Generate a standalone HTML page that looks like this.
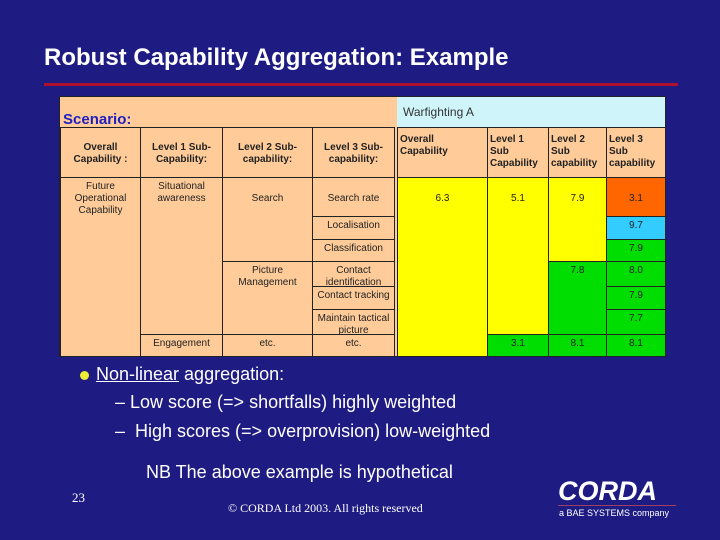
<!DOCTYPE html>
<html><head><meta charset="utf-8"><style>
body{margin:0;width:720px;height:540px;background:#1e1b82;position:relative;overflow:hidden;font-family:"Liberation Sans",sans-serif}
.a{position:absolute;box-sizing:border-box}
.c{position:absolute;box-sizing:border-box;border:1px solid #222;font-size:10px;color:#222;text-align:center;line-height:12px;padding-top:3px}
.t{color:#fff;position:absolute;white-space:nowrap}
</style></head><body>
<div class="t" style="left:44px;top:44px;font-size:24px;font-weight:bold">Robust Capability Aggregation: Example</div>
<div class="a" style="left:44px;top:83px;width:634px;height:3px;background:#b01030"></div>
<div class="a" style="left:59px;top:96px;width:607px;height:261px;background:#fc9;border:1px solid #222">
</div>
<div class="a" style="left:63px;top:111px;font-size:15px;font-weight:bold;color:#2020c0">Scenario:</div>
<div class="a" style="left:397px;top:97px;width:268px;height:30px;background:#cff5fb;font-size:12px;color:#333;padding:8px 0 0 6px">Warfighting A</div>
<div id="cells"></div>
<div class="a" style="left:80px;top:371px;width:9px;height:9px;border-radius:50%;background:#ee3"></div>
<div class="t" style="left:96px;top:364px;font-size:18px"><u>Non-linear</u> aggregation:</div>
<div class="t" style="left:115px;top:392px;font-size:18px">– Low score (=&gt; shortfalls) highly weighted</div>
<div class="t" style="left:115px;top:421px;font-size:18px">–&nbsp; High scores (=&gt; overprovision) low-weighted</div>
<div class="t" style="left:146px;top:462px;font-size:18px">NB The above example is hypothetical</div>
<div class="t" style="left:72px;top:490px;font-size:13px;font-family:'Liberation Serif',serif">23</div>
<div class="t" style="left:228px;top:501px;font-size:12px;font-family:'Liberation Serif',serif">© CORDA Ltd 2003. All rights reserved</div>
<div class="t" style="left:558px;top:476px;font-size:27px;font-weight:bold;font-style:italic;letter-spacing:0px">CORDA</div>
<div class="a" style="left:558px;top:505px;width:118px;height:1px;background:#a04060"></div>
<div class="t" style="left:559px;top:508px;font-size:9px">a BAE SYSTEMS company</div>
<script>
const cells=[
[60,127,80,50,"<b>Overall Capability :</b>","#fc9"],
[140,127,82,50,"<b>Level 1 Sub-Capability:</b>","#fc9"],
[222,127,90,50,"<b>Level 2 Sub-capability:</b>","#fc9"],
[312,127,82,50,"<b>Level 3 Sub-capability:</b>","#fc9"],
[60,177,80,179,"Future Operational Capability","#fc9"],
[140,177,82,157,"Situational awareness","#fc9"],
[140,334,82,22,"Engagement","#fc9"],
[222,177,90,84,"<br>Search","#fc9"],
[222,261,90,73,"Picture Management","#fc9"],
[222,334,90,22,"etc.","#fc9"],
[312,177,82,39,"<br>Search rate","#fc9"],
[312,216,82,23,"Localisation","#fc9"],
[312,239,82,22,"Classification","#fc9"],
[312,261,82,25,"Contact identification","#fc9"],
[312,286,82,23,"Contact tracking","#fc9"],
[312,309,82,25,"Maintain tactical picture","#fc9"],
[312,334,82,22,"etc.","#fc9"],
[397,127,90,50,"<b>Overall<br>Capability</b>","#fc9",1],
[487,127,61,50,"<b>Level 1<br>Sub<br>Capability</b>","#fc9",1],
[548,127,58,50,"<b>Level 2<br>Sub<br>capability</b>","#fc9",1],
[606,127,59,50,"<b>Level 3<br>Sub<br>capability</b>","#fc9",1],
[397,177,90,179,"<br>6.3","#ff0"],
[487,177,61,157,"<br>5.1","#ff0"],
[487,334,61,22,"3.1","#0d0"],
[548,177,58,84,"<br>7.9","#ff0"],
[548,261,58,73,"7.8","#0d0"],
[548,334,58,22,"8.1","#0d0"],
[606,177,59,39,"<br>3.1","#f60"],
[606,216,59,23,"9.7","#3cf"],
[606,239,59,22,"7.9","#0d0"],
[606,261,59,25,"8.0","#0d0"],
[606,286,59,23,"7.9","#0d0"],
[606,309,59,25,"7.7","#0d0"],
[606,334,59,22,"8.1","#0d0"]];
const host=document.getElementById('cells');
cells.forEach((c,i)=>{const d=document.createElement('div');d.className='c';


d.style.cssText=`left:${c[0]}px;top:${c[1]}px;width:${c[2]+1}px;height:${c[3]+1}px;background:${c[5]};`+(c[6]?'text-align:left;padding-left:2px;':'')+(c[1]==127?'padding-top:'+(c[6]?6:14)+'px;':'');
d.innerHTML=c[4];host.appendChild(d);});
</script>
</body></html>
